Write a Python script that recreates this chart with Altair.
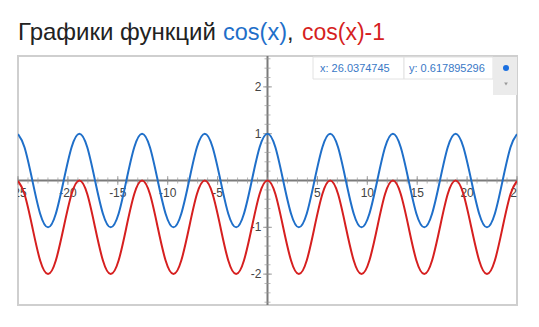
import altair as alt
import pandas as pd

# ---- data ----
X_VALUES = [-25.0, -24.35, -23.56, -22.78, -21.99, -21.21, -20.42, -19.63, -18.85,
            -18.06, -17.28, -16.49, -15.71, -14.92, -14.14, -13.35, -12.57,
            -11.78, -11.0, -10.21, -9.42, -8.64, -7.85, -7.07, -6.28,
            -5.5, -4.71, -3.93, -3.14, -2.36, -1.57, -0.79, 0.0,
            0.79, 1.57, 2.36, 3.14, 3.93, 4.71, 5.5, 6.28,
            7.07, 7.85, 8.64, 9.42, 10.21, 11.0, 11.78, 12.57,
            13.35, 14.14, 14.92, 15.71, 16.49, 17.28, 18.06, 18.85,
            19.63, 20.42, 21.21, 21.99, 22.78, 23.56, 24.35, 25.0]

COS_VALUES = [0.99,
              0.71, 0, -0.71, -1, -0.71, 0, 0.71, 1,
              0.71, 0, -0.71, -1, -0.71, 0, 0.71, 1,
              0.71, 0, -0.71, -1, -0.71, 0, 0.71, 1,
              0.71, 0, -0.71, -1, -0.71, 0, 0.71, 1,
              0.71, 0, -0.71, -1, -0.71, 0, 0.71, 1,
              0.71, 0, -0.71, -1, -0.71, 0, 0.71, 1,
              0.71, 0, -0.71, -1, -0.71, 0, 0.71, 1,
              0.71, 0, -0.71, -1, -0.71, 0, 0.71,
              0.99]

COS_MINUS_1_VALUES = [-0.01,
                      -0.29, -1, -1.71, -2, -1.71, -1, -0.29, 0,
                      -0.29, -1, -1.71, -2, -1.71, -1, -0.29, 0,
                      -0.29, -1, -1.71, -2, -1.71, -1, -0.29, 0,
                      -0.29, -1, -1.71, -2, -1.71, -1, -0.29, 0,
                      -0.29, -1, -1.71, -2, -1.71, -1, -0.29, 0,
                      -0.29, -1, -1.71, -2, -1.71, -1, -0.29, 0,
                      -0.29, -1, -1.71, -2, -1.71, -1, -0.29, 0,
                      -0.29, -1, -1.71, -2, -1.71, -1, -0.29,
                      -0.01]

SERIES_NAMES = ["cos(x)", "cos(x)-1"]
SERIES_COLORS = ["#1f6fc9", "#d61f1f"]

X_MINOR_TICKS = list(range(-25, 26))
X_MAJOR_TICKS = [-25, -20, -15, -10, -5, 5, 10, 15, 20, 25]
X_TICK_LABELS = ["-25", "-20", "-15", "-10", "-5", "5", "10", "15", "20", "25"]
Y_MINOR_TICKS = [-2.6, -2.4, -2.2, -2.0, -1.8, -1.6, -1.4, -1.2, -1.0, -0.8, -0.6,
                 -0.4, -0.2, 0.2, 0.4, 0.6, 0.8, 1.0, 1.2, 1.4, 1.6, 1.8, 2.0,
                 2.2, 2.4, 2.6]
Y_MAJOR_TICKS = [-2, -1, 1, 2]
Y_TICK_LABELS = ["-2", "-1", "1", "2"]

TOOLTIP_X = "x: 26.0374745"
TOOLTIP_Y = "y: 0.617895296"

# ---- tables ----
lines_df = pd.DataFrame({
    "x": X_VALUES * 2,
    "y": COS_VALUES + COS_MINUS_1_VALUES,
    "series": [SERIES_NAMES[0]] * len(X_VALUES) + [SERIES_NAMES[1]] * len(X_VALUES),
})
xminor_df = pd.DataFrame({"x": X_MINOR_TICKS, "y": [0] * len(X_MINOR_TICKS)})
xmajor_df = pd.DataFrame({"x": X_MAJOR_TICKS, "y": [0] * len(X_MAJOR_TICKS),
                          "label": X_TICK_LABELS})
yminor_df = pd.DataFrame({"y": Y_MINOR_TICKS, "x": [0] * len(Y_MINOR_TICKS)})
ymajor_df = pd.DataFrame({"y": Y_MAJOR_TICKS, "x": [0] * len(Y_MAJOR_TICKS),
                          "label": Y_TICK_LABELS})
one = pd.DataFrame({"a": [0]})

FONT = "Liberation Sans"
W, H = 499, 249
xs = alt.Scale(domain=[-25, 25], nice=False, zero=False)
ys = alt.Scale(domain=[-2.66, 2.66], nice=False, zero=False)
AX = "#7a7a7a"

x_axis_line = alt.Chart(pd.DataFrame({"y": [0]})).mark_rule(color=AX, strokeWidth=2).encode(
    y=alt.Y("y:Q", scale=ys, axis=None))
y_axis_line = alt.Chart(pd.DataFrame({"x": [0]})).mark_rule(color=AX, strokeWidth=2).encode(
    x=alt.X("x:Q", scale=xs, axis=None))

x_minor = alt.Chart(xminor_df).mark_tick(orient="vertical", size=6, thickness=1, color="#999999").encode(
    x=alt.X("x:Q", scale=xs, axis=None), y=alt.Y("y:Q", scale=ys, axis=None))
x_major = alt.Chart(xmajor_df).mark_tick(orient="vertical", size=9, thickness=1, color="#888888").encode(
    x=alt.X("x:Q", scale=xs, axis=None), y=alt.Y("y:Q", scale=ys, axis=None))
y_minor = alt.Chart(yminor_df).mark_tick(orient="horizontal", size=6, thickness=1, color="#999999").encode(
    x=alt.X("x:Q", scale=xs, axis=None), y=alt.Y("y:Q", scale=ys, axis=None))
y_major = alt.Chart(ymajor_df).mark_tick(orient="horizontal", size=9, thickness=1, color="#888888").encode(
    x=alt.X("x:Q", scale=xs, axis=None), y=alt.Y("y:Q", scale=ys, axis=None))

x_labels = alt.Chart(xmajor_df).mark_text(
    font=FONT, fontSize=12, color="#444444", dy=16, baseline="alphabetic", align="center", clip=True
).encode(x=alt.X("x:Q", scale=xs, axis=None), y=alt.Y("y:Q", scale=ys, axis=None), text="label:N")
y_labels = alt.Chart(ymajor_df).mark_text(
    font=FONT, fontSize=12, color="#444444", dx=-6, baseline="middle", align="right", clip=True
).encode(x=alt.X("x:Q", scale=xs, axis=None), y=alt.Y("y:Q", scale=ys, axis=None), text="label:N")

curves = alt.Chart(lines_df).mark_line(strokeWidth=2, interpolate="natural", clip=True).encode(
    x=alt.X("x:Q", scale=xs, axis=None),
    y=alt.Y("y:Q", scale=ys, axis=None),
    color=alt.Color("series:N", scale=alt.Scale(domain=SERIES_NAMES, range=SERIES_COLORS), legend=None),
    detail="series:N",
)

# ---- tooltip chrome (top right) ----
box_x = alt.Chart(one).mark_rect(fill="white", stroke="#e2e2e2", strokeWidth=1).encode(
    x=alt.value(295), x2=alt.value(386), y=alt.value(1), y2=alt.value(23))
box_y = alt.Chart(one).mark_rect(fill="white", stroke="#e2e2e2", strokeWidth=1).encode(
    x=alt.value(386), x2=alt.value(475), y=alt.value(1), y2=alt.value(23))
box_g = alt.Chart(one).mark_rect(fill="#ebebeb").encode(
    x=alt.value(475), x2=alt.value(499), y=alt.value(1), y2=alt.value(39))
tx = alt.Chart(pd.DataFrame({"t": [TOOLTIP_X]})).mark_text(
    font=FONT, fontSize=11, color="#3a78c6", align="left", baseline="alphabetic").encode(
    x=alt.value(302), y=alt.value(16), text="t:N")
ty = alt.Chart(pd.DataFrame({"t": [TOOLTIP_Y]})).mark_text(
    font=FONT, fontSize=11, color="#3a78c6", align="left", baseline="alphabetic").encode(
    x=alt.value(391), y=alt.value(16), text="t:N")
dot = alt.Chart(one).mark_circle(size=36, color="#1a6fe0", opacity=1).encode(
    x=alt.value(488), y=alt.value(12))
arrow = alt.Chart(one).mark_point(shape="triangle-down", size=14, filled=True, color="#9a9a9a", opacity=1).encode(
    x=alt.value(488), y=alt.value(28))

# ---- title made of coloured pieces ----
TITLE_PARTS = [("Графики функций", "#222222", 0, 24), ("cos(x)", "#1f6fc9", 205, 23.5),
               (",", "#222222", 269, 23.5), ("cos(x)-1", "#d61f1f", 284, 23)]
title_layers = [
    alt.Chart(pd.DataFrame({"t": [t]})).mark_text(
        font=FONT, fontSize=fs, color=c, align="left", baseline="alphabetic").encode(
        x=alt.value(px), y=alt.value(-16.5), text="t:N")
    for t, c, px, fs in TITLE_PARTS
]

chart = alt.layer(
    x_axis_line, y_axis_line, x_minor, x_major, y_minor, y_major, x_labels, y_labels,
    curves, box_x, box_y, box_g, tx, ty, dot, arrow, *title_layers
).properties(
    width=W, height=H,
    autosize=alt.AutoSizeParams(type="none"),
    padding={"left": 18, "top": 56, "right": 22, "bottom": 22},
    background="white",
).configure_view(stroke="#cfcfcf", strokeWidth=2)

chart.save("out.html", embed_options={"renderer": "svg", "actions": False})
